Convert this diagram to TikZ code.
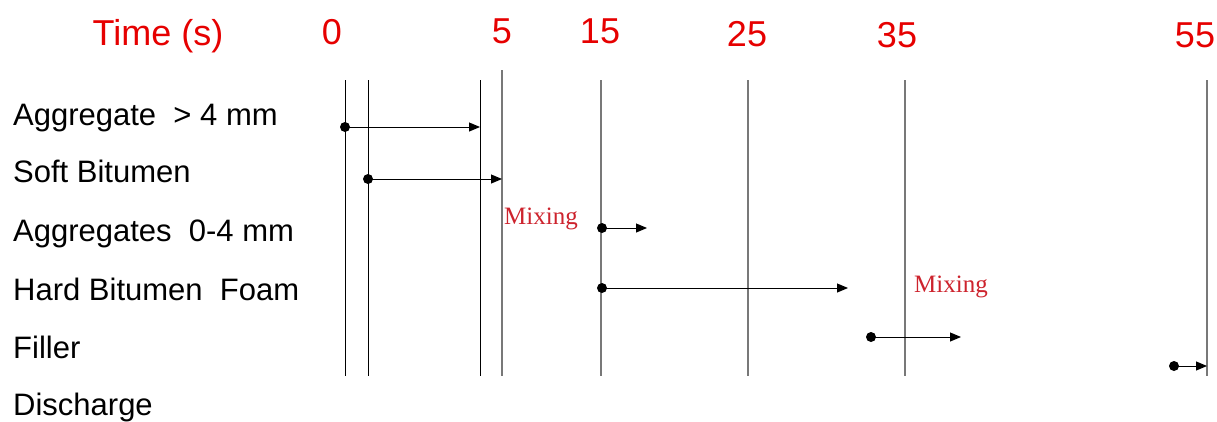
\documentclass[tikz,border=0pt]{standalone}
\usepackage{fontspec}
\setmainfont{Liberation Sans}
\newfontfamily\mixfont{Liberation Serif}
\usetikzlibrary{arrows.meta}
\definecolor{timered}{RGB}{230,0,0}
\definecolor{mixred}{RGB}{205,35,45}
\definecolor{gridgray}{RGB}{120,120,120}
\begin{document}
\begin{tikzpicture}[x=1pt,y=-1pt,
  rowlabel/.style={anchor=base west,inner sep=0pt,font=\fontsize{31}{31}\selectfont,text=black},
  ticklabel/.style={anchor=center,inner sep=0pt,font=\fontsize{36}{36}\selectfont,text=timered},
  mixlabel/.style={anchor=center,inner sep=0pt,font=\mixfont\fontsize{25}{25}\selectfont,text=mixred},
  darkline/.style={draw=black,line width=1pt},
  grayline/.style={draw=gridgray,line width=1.3pt},
  feed/.style={draw=black,line width=1pt,-{Triangle[length=11pt,width=9pt]}},
  startdot/.style={fill=black}]
\useasboundingbox (0,0) rectangle (1217,421);

% time axis labels
\node[ticklabel] (tlab) at (158,36) {Time (s)};
\node[ticklabel] (t0)  at (332,32) {0};
\node[ticklabel] (t5)  at (502,31) {5};
\node[ticklabel] (t15) at (600,31) {15};
\node[ticklabel] (t25) at (747,34) {25};
\node[ticklabel] (t35) at (897,35) {35};
\node[ticklabel] (t55) at (1195,35) {55};

% ingredient rows
\node[rowlabel] (agg)  at (13,125) {Aggregate \ > 4 mm};
\node[rowlabel] (soft) at (13,182) {Soft Bitumen};
\node[rowlabel] (fine) at (13,241) {Aggregates \ 0-4 mm};
\node[rowlabel] (hard) at (13,300) {Hard Bitumen \ Foam};
\node[rowlabel] (fill) at (13,358) {Filler};
\node[rowlabel] (dis)  at (13,415) {Discharge};

% vertical time marks
\draw[darkline] (345,80) -- (345,376);
\draw[darkline] (368,80) -- (368,376);
\draw[darkline] (480,80) -- (480,376);
\draw[grayline] (502,70) -- (502,376);
\draw[grayline] (601,80) -- (601,376);
\draw[grayline] (748,80) -- (748,376);
\draw[grayline] (905,80) -- (905,376);
\draw[grayline] (1207,80) -- (1207,376);

% feeding intervals
\coordinate (a1) at (345,127);  \coordinate (a2) at (480,127);
\coordinate (b1) at (368,179);  \coordinate (b2) at (502,179);
\coordinate (c1) at (602,228);  \coordinate (c2) at (647,228);
\coordinate (d1) at (602,288);  \coordinate (d2) at (848,288);
\coordinate (e1) at (871,337);  \coordinate (e2) at (961,337);
\coordinate (f1) at (1174,366); \coordinate (f2) at (1207,366);

\foreach \s/\e in {a1/a2,b1/b2,c1/c2,d1/d2,e1/e2,f1/f2}{
  \draw[feed] (\s) -- (\e);
  \fill[startdot] (\s) circle (5pt);
}

% mixing phases
\node[mixlabel] (mix1) at (541,219) {Mixing};
\node[mixlabel] (mix2) at (951,287) {Mixing};
\end{tikzpicture}
\end{document}
